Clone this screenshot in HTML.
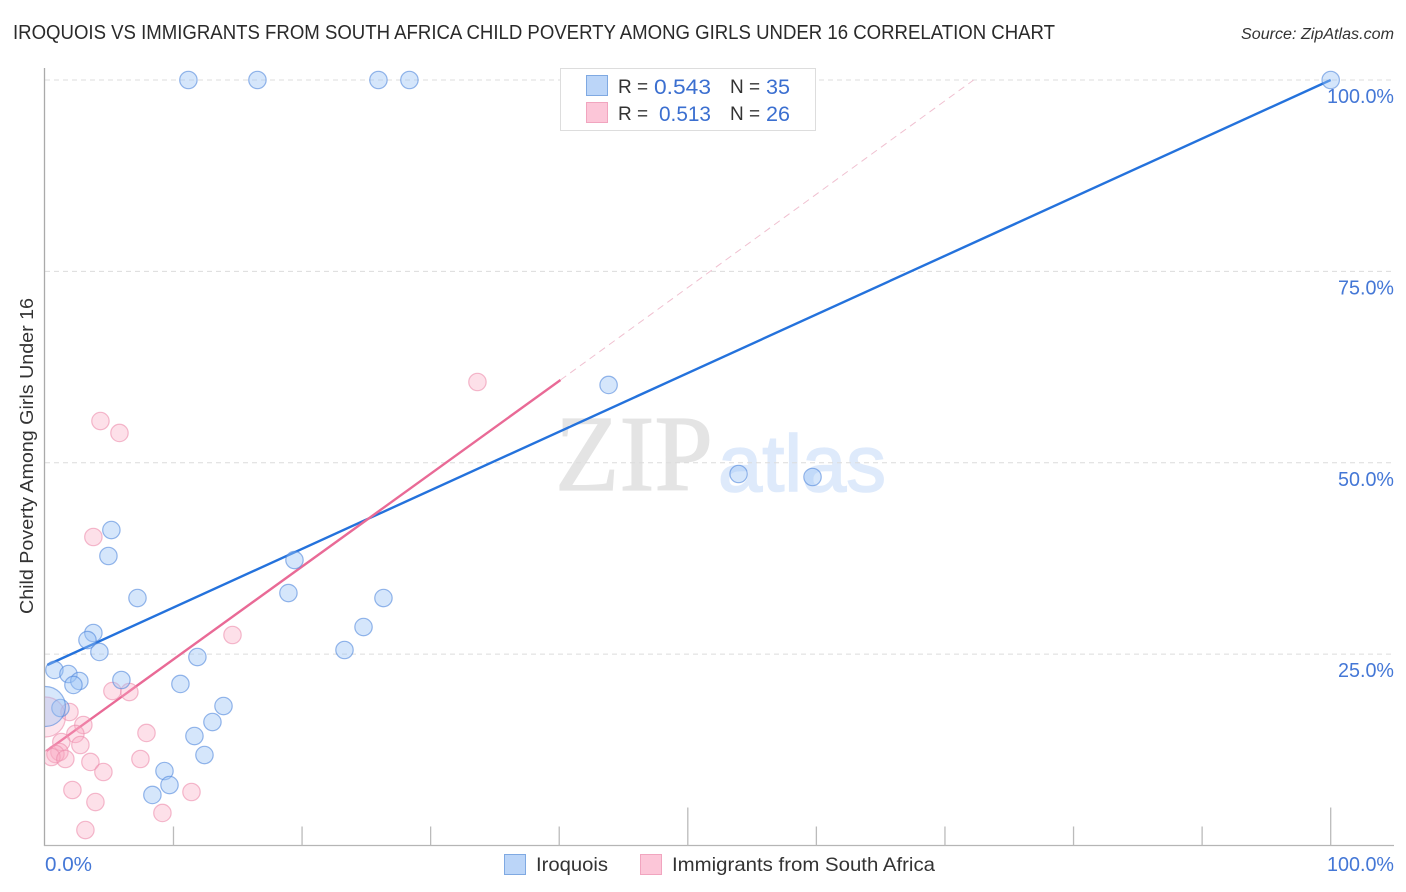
<!DOCTYPE html>
<html>
<head>
<meta charset="utf-8">
<title>Iroquois vs Immigrants from South Africa Child Poverty Correlation Chart</title>
<style>
html,body{margin:0;padding:0;background:#fff;}
svg{display:block;font-family:"Liberation Sans",sans-serif;}
</style>
</head>
<body>
<svg id="chart" width="1406" height="892" viewBox="0 0 1406 892" xmlns="http://www.w3.org/2000/svg">
  <defs><clipPath id="plot-clip"><rect x="45" y="60" width="1349" height="785"/></clipPath></defs>
  <text x="13" y="39" font-size="20" fill="#2a2a2a" textLength="1042" lengthAdjust="spacingAndGlyphs">IROQUOIS VS IMMIGRANTS FROM SOUTH AFRICA CHILD POVERTY AMONG GIRLS UNDER 16 CORRELATION CHART</text>
  <text x="1394" y="39" font-size="15.5" font-style="italic" fill="#333" text-anchor="end" textLength="153" lengthAdjust="spacingAndGlyphs">Source: ZipAtlas.com</text>
  <text x="555" y="490" font-family="'Liberation Serif',serif" font-size="108" fill="#e4e4e4" stroke="#e4e4e4" stroke-width="1.2" textLength="158" lengthAdjust="spacingAndGlyphs">ZIP</text>
  <text x="718" y="491" font-size="80" fill="#deeafb" stroke="#deeafb" stroke-width="1.6" textLength="168" lengthAdjust="spacingAndGlyphs">atlas</text>
  <g id="grid"></g>
  <g id="axes"></g>
  <g id="lines"></g>
  <g id="points" clip-path="url(#plot-clip)"></g>
  <text transform="translate(33,456) rotate(-90)" font-size="18.5" fill="#333" text-anchor="middle" textLength="316" lengthAdjust="spacingAndGlyphs">Child Poverty Among Girls Under 16</text>

  <g>
    <rect x="560.5" y="68.5" width="255" height="62" fill="#fff" stroke="#ddd"/>
    <rect x="586.5" y="75.5" width="21" height="20" fill="#bbd5f8" stroke="#7fa9e2"/>
    <rect x="586.5" y="102.5" width="21" height="20" fill="#fcc6d8" stroke="#f1a5bf"/>
    <text x="618" y="93" font-size="19" fill="#333">R =</text>
    <text x="711" y="94" font-size="21" fill="#3b6fd0" text-anchor="end" textLength="57" lengthAdjust="spacingAndGlyphs">0.543</text>
    <text x="730" y="93" font-size="19" fill="#333">N =</text>
    <text x="766" y="94" font-size="21" fill="#3b6fd0" textLength="24" lengthAdjust="spacingAndGlyphs">35</text>
    <text x="618" y="120" font-size="19" fill="#333">R =</text>
    <text x="711" y="121" font-size="21" fill="#3b6fd0" text-anchor="end" textLength="52" lengthAdjust="spacingAndGlyphs">0.513</text>
    <text x="730" y="120" font-size="19" fill="#333">N =</text>
    <text x="766" y="121" font-size="21" fill="#3b6fd0" textLength="24" lengthAdjust="spacingAndGlyphs">26</text>
  </g>

  <g>
    <rect x="504.5" y="854.5" width="21" height="20" fill="#bbd5f8" stroke="#7fa9e2"/>
    <text x="536" y="871" font-size="19.5" fill="#333" textLength="72" lengthAdjust="spacingAndGlyphs">Iroquois</text>
    <rect x="640.5" y="854.5" width="21" height="20" fill="#fcc6d8" stroke="#f1a5bf"/>
    <text x="672" y="871" font-size="19.5" fill="#333" textLength="263" lengthAdjust="spacingAndGlyphs">Immigrants from South Africa</text>
  </g>
</svg>
<script>
const xTickValues = [0, 10, 20, 30, 40, 50, 60, 70, 80, 90, 100];
const majorXTicks = [50, 100];
const yGridValues = [25, 50, 75, 100];
const yTickLabels = ['25.0%', '50.0%', '75.0%', '100.0%'];
const xEndLabels = ['0.0%', '100.0%'];

const iroquoisX = [11.16,16.53,25.94,28.35,100,43.84,53.95,59.70,5.17,4.94,19.41,18.94,7.20,26.33,24.78,3.77,3.31,4.24,23.30,11.86,0.74,1.83,2.68,2.22,5.95,10.54,13.89,1.21,13.03,11.63,12.41,9.30,9.69,8.36,0.04];
const iroquoisY = [100,100,100,100,100,60.16,48.53,48.14,41.21,37.82,37.29,32.98,32.33,32.33,28.54,27.76,26.84,25.28,25.54,24.62,22.93,22.40,21.49,20.97,21.62,21.10,18.22,17.96,16.13,14.30,11.82,9.73,7.90,6.60,18.16];
const iroquoisWeight = [1,1,1,1,1,1,1,1,1,1,1,1,1,1,1,1,1,1,1,1,1,1,1,1,1,1,1,1,1,1,1,1,1,1,5];

const southAfricaX = [33.64,4.32,5.80,3.77,14.59,5.25,6.57,1.91,2.99,2.37,7.90,1.28,2.76,1.13,0.82,0.51,1.59,3.54,7.43,4.55,2.14,3.93,11.40,9.14,3.15,0.04];
const southAfricaY = [60.55,55.45,53.89,40.30,27.50,20.18,20.05,17.44,15.74,14.57,14.70,13.52,13.13,12.21,11.95,11.56,11.30,10.91,11.30,9.60,7.25,5.68,6.99,4.25,2.02,16.79];
const southAfricaWeight = [1,1,1,1,1,1,1,1,1,1,1,1,1,1,1,1,1,1,1,1,1,1,1,1,1,5];

const iroquoisTrendX = [0.19, 100];
const iroquoisTrendY = [23.58, 100];
const southAfricaTrendX = [0.12, 40.1];
const southAfricaTrendY = [12.34, 60.81];
const southAfricaDashX = [40.1, 72.23];
const southAfricaDashY = [60.81, 100];

const NS = 'http://www.w3.org/2000/svg';
function xScale(v){ return 44.9 + v * 12.858; }
function yScale(v){ return 845.5 - v * 7.655; }
function rScale(w){ return w > 1 ? 20 : 8.7; }
function make(tag, attrs, parent){
  const el = document.createElementNS(NS, tag);
  for (const k in attrs) el.setAttribute(k, attrs[k]);
  parent.appendChild(el);
  return el;
}
const grid = document.getElementById('grid');
const axes = document.getElementById('axes');
const lines = document.getElementById('lines');
const points = document.getElementById('points');

yGridValues.forEach(function(v, i){
  const g = make('line', {x1:45, x2:1394, y1:yScale(v), y2:yScale(v), stroke:'#dcdcdc', 'stroke-width':1, 'stroke-dasharray':'5 4'}, grid);
  
  
  const t = make('text', {x:1394, y:yScale(v) + 23, 'font-size':20, fill:'#4477d6', 'text-anchor':'end', textLength: yTickLabels[i].length > 5 ? 67 : 56, lengthAdjust:'spacingAndGlyphs'}, axes);
  t.textContent = yTickLabels[i];
  
  
});

const yAxis = make('line', {x1:44.5, x2:44.5, y1:68, y2:846, stroke:'#aaa', 'stroke-width':1.3}, axes);


const xAxis = make('line', {x1:44, x2:1394, y1:845.5, y2:845.5, stroke:'#b5b5b5', 'stroke-width':1.3}, axes);



xTickValues.forEach(function(v){
  if (v === 0) return;
  const len = majorXTicks.indexOf(v) >= 0 ? 38 : 19;
  const tk = make('line', {x1:xScale(v), x2:xScale(v), y1:845.5 - len, y2:845.5, stroke:'#bbb', 'stroke-width':1.3}, axes);
  
  
});

const xl0 = make('text', {x:45, y:871, 'font-size':20, fill:'#4477d6', textLength:47, lengthAdjust:'spacingAndGlyphs'}, axes);
xl0.textContent = xEndLabels[0];


const xl1 = make('text', {x:1394, y:871, 'font-size':20, fill:'#4477d6', 'text-anchor':'end', textLength:67, lengthAdjust:'spacingAndGlyphs'}, axes);
xl1.textContent = xEndLabels[1];



function drawPoints(xs, ys, ws, fill, stroke, big){
  xs.forEach(function(x, i){
    const isBig = ws[i] > 1;
    const c = make('circle', {cx:xScale(x), cy:yScale(ys[i]), r:rScale(ws[i]), fill:isBig ? big : fill, stroke:stroke, 'stroke-width':1.2}, points);
    
    
  });
}
drawPoints(southAfricaX, southAfricaY, southAfricaWeight, 'rgba(250,170,195,0.36)', 'rgba(236,140,172,0.6)', 'rgba(250,170,195,0.3)');
drawPoints(iroquoisX, iroquoisY, iroquoisWeight, 'rgba(155,195,245,0.42)', 'rgba(80,135,220,0.6)', 'rgba(155,195,245,0.4)');

const blueTrend = make('line', {x1:xScale(iroquoisTrendX[0]), y1:yScale(iroquoisTrendY[0]), x2:xScale(iroquoisTrendX[1]), y2:yScale(iroquoisTrendY[1]), stroke:'#2472dc', 'stroke-width':2.4}, lines);


const pinkTrend = make('line', {x1:xScale(southAfricaTrendX[0]), y1:yScale(southAfricaTrendY[0]), x2:xScale(southAfricaTrendX[1]), y2:yScale(southAfricaTrendY[1]), stroke:'#e96a96', 'stroke-width':2.4}, lines);


const pinkDash = make('line', {x1:xScale(southAfricaDashX[0]), y1:yScale(southAfricaDashY[0]), x2:xScale(southAfricaDashX[1]), y2:yScale(southAfricaDashY[1]), stroke:'#f0c0d0', 'stroke-width':1, 'stroke-dasharray':'7 5'}, lines);


</script>
</body>
</html>
